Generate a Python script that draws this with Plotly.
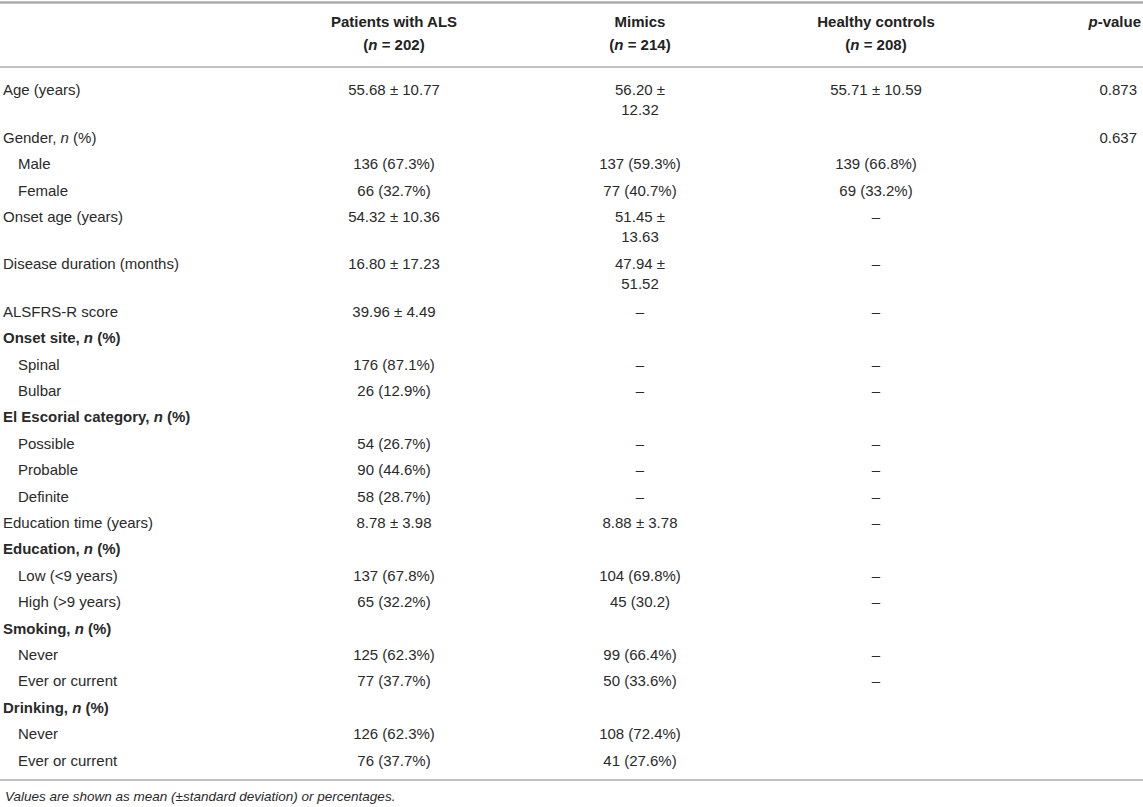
import plotly.graph_objects as go

W, H = 1143, 807
FONT = "Liberation Sans, Arial, sans-serif"

# column headers (two lines each)
head_top = ["", "Patients with ALS", "Mimics", "Healthy controls", "<i>p</i>-value"]
head_bot = ["", "(<i>n</i> = 202)", "(<i>n</i> = 214)", "(<i>n</i> = 208)", ""]

# row labels; indent marks sub-rows
labels = [
    "Age (years)", "Gender, <i>n</i> (%)", "Male", "Female",
    "Onset age (years)", "Disease duration (months)", "ALSFRS-R score",
    "<b>Onset site, <i>n</i> (%)</b>", "Spinal", "Bulbar",
    "<b>El Escorial category, <i>n</i> (%)</b>", "Possible", "Probable", "Definite",
    "Education time (years)",
    "<b>Education, <i>n</i> (%)</b>", "Low (&lt;9 years)", "High (&gt;9 years)",
    "<b>Smoking, <i>n</i> (%)</b>", "Never", "Ever or current",
    "<b>Drinking, <i>n</i> (%)</b>", "Never", "Ever or current",
]
indent = [0, 0, 1, 1, 0, 0, 0, 0, 1, 1, 0, 1, 1, 1, 0, 0, 1, 1, 0, 1, 1, 0, 1, 1]

als = [
    "55.68 ± 10.77", "", "136 (67.3%)", "66 (32.7%)", "54.32 ± 10.36",
    "16.80 ± 17.23", "39.96 ± 4.49", "", "176 (87.1%)", "26 (12.9%)", "",
    "54 (26.7%)", "90 (44.6%)", "58 (28.7%)", "8.78 ± 3.98", "",
    "137 (67.8%)", "65 (32.2%)", "", "125 (62.3%)", "77 (37.7%)", "",
    "126 (62.3%)", "76 (37.7%)",
]
mimics = [
    "56.20 ±<br>12.32", "", "137 (59.3%)", "77 (40.7%)", "51.45 ±<br>13.63",
    "47.94 ±<br>51.52", "–", "", "–", "–", "",
    "–", "–", "–", "8.88 ± 3.78", "",
    "104 (69.8%)", "45 (30.2)", "", "99 (66.4%)", "50 (33.6%)", "",
    "108 (72.4%)", "41 (27.6%)",
]
healthy = [
    "55.71 ± 10.59", "", "139 (66.8%)", "69 (33.2%)", "–",
    "–", "–", "", "–", "–", "",
    "–", "–", "–", "–", "",
    "–", "–", "", "–", "–", "",
    "", "",
]
pvals = ["0.873", "0.637"] + [""] * 22

footnote = "Values are shown as mean (±standard deviation) or percentages."

# layout of the grid (pixels)
col_x = [3, 394, 640, 876, 1137]
col_pos = ["bottom right", "bottom center", "bottom center", "bottom center", "bottom left"]
fs = 15
pitch, extra_line = 26.4, 21

# first-line centre of each row, grown by the number of wrapped lines
nlines = [max(c.count("<br>") + 1 for c in row) for row in zip(als, mimics, healthy)]
centers = [90.0]
for n in nlines[:-1]:
    centers.append(centers[-1] + pitch + extra_line * (n - 1))
ys = [c - 0.39 * fs for c in centers]

fig = go.Figure()

for txt, yc in [(head_top, 22), (head_bot, 45)]:
    for j in range(1, 5):
        fig.add_trace(go.Scatter(
            x=[col_x[j] + (4 if j == 4 else 0)], y=[yc - 0.39 * fs], mode="text",
            text=["<b>" + txt[j] + "</b>" if txt[j] else ""],
            textposition=col_pos[j], hoverinfo="skip",
            textfont=dict(family=FONT, size=fs, color="#222"),
        ))

fig.add_trace(go.Scatter(
    x=[col_x[0] + 15 * i for i in indent], y=ys, mode="text", text=labels,
    textposition=col_pos[0], hoverinfo="skip",
    textfont=dict(family=FONT, size=fs, color="#2a2a2a"),
))
for j, col in enumerate([als, mimics, healthy, pvals], start=1):
    fig.add_trace(go.Scatter(
        x=[col_x[j]] * len(col), y=ys, mode="text", text=col,
        textposition=col_pos[j], hoverinfo="skip",
        textfont=dict(family=FONT, size=fs, color="#2a2a2a"),
    ))

# horizontal rules
for ypx, w in [(2.5, 2.5), (67, 1.5), (780, 1.5)]:
    fig.add_shape(type="line", xref="x", yref="y", x0=0, x1=W, y0=ypx, y1=ypx,
                  line=dict(color="#ababab", width=w))

fig.add_annotation(text="<i>" + footnote + "</i>", xref="x", yref="y",
                   x=3, y=796, xanchor="left", yanchor="middle", showarrow=False,
                   font=dict(family=FONT, size=13.5, color="#2a2a2a"))

fig.update_xaxes(range=[0, W], visible=False, fixedrange=True)
fig.update_yaxes(range=[H, 0], visible=False, fixedrange=True)
fig.update_layout(width=W, height=H, margin=dict(l=0, r=0, t=0, b=0),
                  showlegend=False, paper_bgcolor="white", plot_bgcolor="white")

# the page's default body margin would push the figure 8px off the window
fig.write_html("out.html", config={"displayModeBar": False},
               post_script="document.body.style.margin='0px';")
